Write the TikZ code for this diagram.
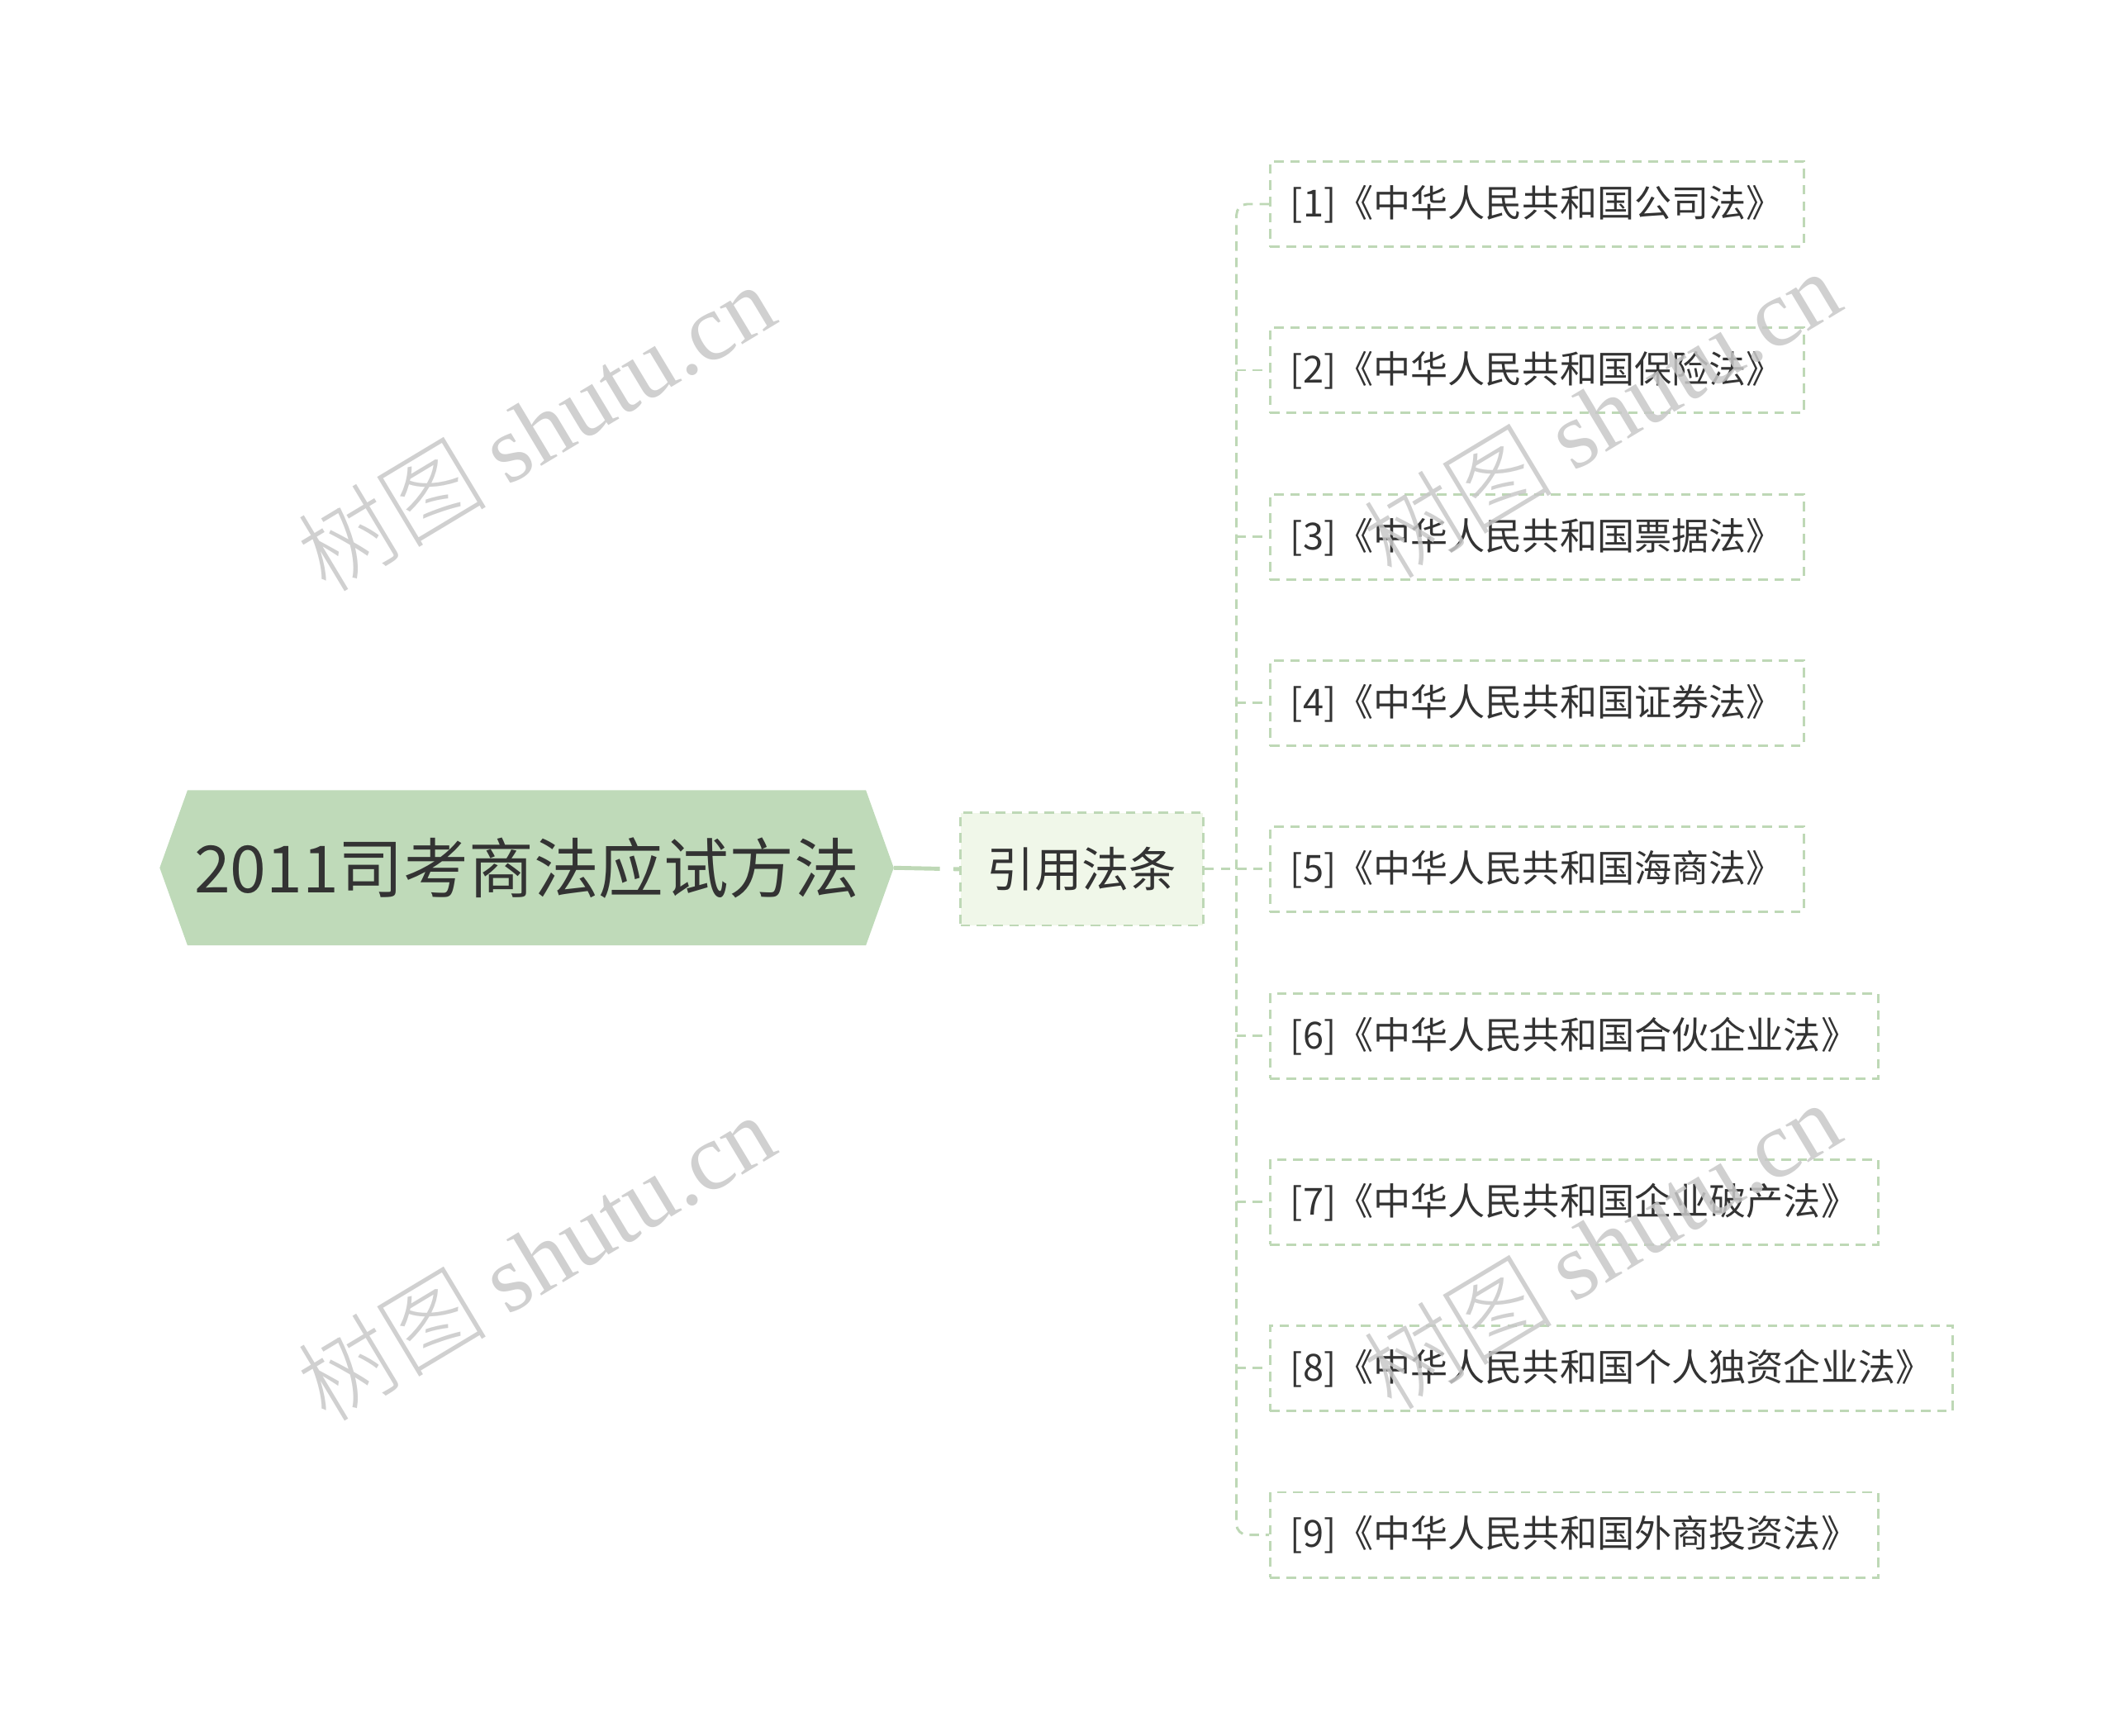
\documentclass[tikz,border=0pt]{standalone}
\usepackage{fontspec}
\setmainfont{Noto Sans CJK SC}
\newfontfamily\wmlatin{Liberation Serif}
\newfontfamily\wmcjk{Noto Sans CJK SC Light}
\usepackage{xcolor}
\usetikzlibrary{backgrounds}
\definecolor{rootfill}{RGB}{191,218,185}
\definecolor{citefill}{RGB}{240,247,233}
\definecolor{linecol}{RGB}{190,216,182}
\definecolor{textcol}{RGB}{51,51,51}
\definecolor{wmcol}{RGB}{200,200,200}

\begin{document}
\begin{tikzpicture}[x=1pt,y=-1pt,
  every node/.style={text=textcol},
  leaf/.style={draw=linecol,line width=1.8pt,dash pattern=on 7pt off 5pt,anchor=west,
    minimum height=63pt,inner xsep=14.8pt,font=\fontsize{27.5}{30}\selectfont},
  link/.style={linecol,line width=1.8pt,dash pattern=on 7pt off 5pt,rounded corners=8pt},
  wmark/.style={text=wmcol,rotate=31,opacity=0.85,font=\fontsize{70}{76}\selectfont}]
 \useasboundingbox (0,0) rectangle (1560,1280);

 % root and first branch
 \node[minimum width=541pt,minimum height=114pt,font=\fontsize{48}{56}\selectfont] (root) at (388.5,640) {2011司考商法应试方法};
 \begin{scope}[on background layer]
  \fill[rootfill] (root.west) -- ([xshift=20.5pt]root.north west) -- ([xshift=-20.5pt]root.north east)
   -- (root.east) -- ([xshift=-20.5pt]root.south east) -- ([xshift=20.5pt]root.south west) -- cycle;
 \end{scope}
 \node[draw=linecol,fill=citefill,line width=1.8pt,dash pattern=on 7pt off 5pt,
   minimum width=179pt,minimum height=83pt,font=\fontsize{35}{40}\selectfont] (cite) at (798,641) {引用法条};
 \draw[linecol,line width=3pt,dash pattern=on 34pt off 10pt on 20pt] (root.east) -- (cite.west);

 % leaves
 \node[leaf] (l1) at (936,150.5) {[1]《中华人民共和国公司法》};
 \node[leaf] (l2) at (936,273) {[2]《中华人民共和国保险法》};
 \node[leaf] (l3) at (936,396) {[3]《中华人民共和国票据法》};
 \node[leaf] (l4) at (936,518.5) {[4]《中华人民共和国证券法》};
 \node[leaf] (l5) at (936,641) {[5]《中华人民共和国海商法》};
 \node[leaf] (l6) at (936,764) {[6]《中华人民共和国合伙企业法》};
 \node[leaf] (l7) at (936,886.5) {[7]《中华人民共和国企业破产法》};
 \node[leaf] (l8) at (936,1009) {[8]《中华人民共和国个人独资企业法》};
 \node[leaf] (l9) at (936,1132) {[9]《中华人民共和国外商投资法》};

 \coordinate (spine) at (912,641);
 \draw[link] (l1.west) -| (spine) |- (l9.west);
 \draw[link] (cite.east) -- (l5.west);
 \draw[link] (spine |- l2.west) -- (l2.west);
 \draw[link] (spine |- l3.west) -- (l3.west);
 \draw[link] (spine |- l4.west) -- (l4.west);
 \draw[link] (spine |- l6.west) -- (l6.west);
 \draw[link] (spine |- l7.west) -- (l7.west);
 \draw[link] (spine |- l8.west) -- (l8.west);

 % watermarks
 \node[wmark] (wm1) at (395,315) {{\wmcjk 树图} {\wmlatin shutu.cn}};
 \node[wmark] (wm2) at (1181,305) {{\wmcjk 树图} {\wmlatin shutu.cn}};
 \node[wmark] (wm3) at (395,927) {{\wmcjk 树图} {\wmlatin shutu.cn}};
 \node[wmark] (wm4) at (1181,918) {{\wmcjk 树图} {\wmlatin shutu.cn}};
\end{tikzpicture}
\end{document}
